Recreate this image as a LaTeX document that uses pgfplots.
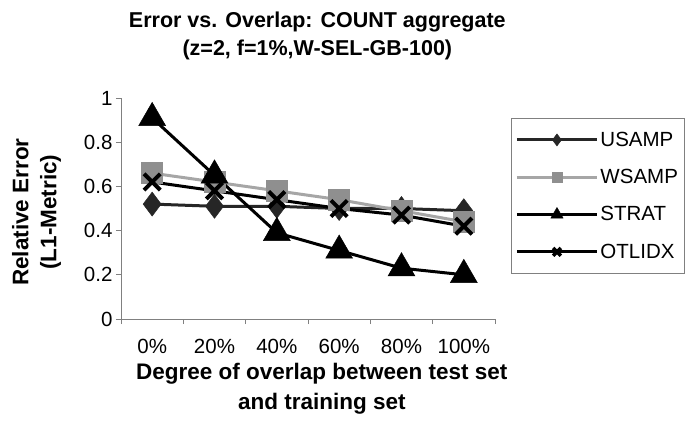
\documentclass[border=0pt]{standalone}
\usepackage{fontspec}
\setmainfont{Liberation Sans}
\usepackage{pgfplots}
\pgfplotsset{compat=1.18}
\definecolor{usamp}{HTML}{262626}
\definecolor{wline}{HTML}{A6A6A6}
\definecolor{wmark}{HTML}{8F8F8F}
\definecolor{axgray}{HTML}{808080}
\begin{document}
\begin{tikzpicture}
\path[use as bounding box] (0pt,0pt) rectangle (685pt,439pt);
\begin{axis}[
  at={(121pt,120pt)}, anchor=south west,
  scale only axis, width=374pt, height=221pt,
  xmin=-0.5, xmax=5.5, ymin=0, ymax=1,
  axis x line=bottom, axis y line=left,
  axis line style={-, draw=axgray, line width=0.8pt},
  tick align=outside,
  major tick length=5pt,
  xtick={0,1,2,3,4,5},
  xticklabels={0\%,20\%,40\%,60\%,80\%,100\%},
  major x tick style={draw=none},
  extra x ticks={-0.5,0.5,1.5,2.5,3.5,4.5,5.5},
  extra x tick labels={},
  extra x tick style={major x tick style={draw=axgray, line width=0.8pt}},
  ytick={0,0.2,0.4,0.6,0.8,1},
  yticklabels={0,0.2,0.4,0.6,0.8,1},
  major y tick style={draw=axgray, line width=0.8pt},
  tick label style={font=\fontsize{20.5}{24}\selectfont},
  xticklabel style={yshift=-12pt},
  /pgf/number format/assume math mode=true,
  title={Error vs. Overlap: COUNT aggregate\\(z=2, f=1\%,W-SEL-GB-100)},
  title style={font=\fontsize{21.5}{28}\selectfont\bfseries, align=center,
    at={(axis description cs:0.525,1.255)}, anchor=center},
  xlabel={Degree of overlap between test set\\and training set},
  xlabel style={font=\fontsize{22.5}{30}\selectfont\bfseries, align=center,
    at={(axis description cs:0.537,-0.315)}, anchor=center},
  ylabel={Relative Error\\(L1-Metric)},
  ylabel style={font=\fontsize{22.5}{28}\selectfont\bfseries, align=center,
    at={(axis description cs:-0.226,0.484)}, anchor=center},
  legend style={at={(axis description cs:1.043,0.909)}, anchor=north west,
    draw=axgray, line width=0.8pt, font=\fontsize{20.5}{22}\selectfont,
    row sep=17.5pt, inner ysep=11.5pt, inner xsep=4pt,
    /tikz/every even column/.append style={column sep=1pt}},
  legend cell align=left,
  legend image code/.code={\draw[mark repeat=2,mark phase=2,#1] plot coordinates {(0pt,0pt) (40pt,0pt) (80pt,0pt)};},
]
\addlegendimage{usamp, line width=3pt, mark=diamond*, mark size=6pt, mark options={solid, fill=usamp, line width=0.5pt}}
\addlegendentry{USAMP}
\addlegendimage{wline, line width=3pt, mark=square*, mark size=5pt, mark options={solid, draw=wmark, fill=wmark, line width=0.5pt}}
\addlegendentry{WSAMP}
\addlegendimage{black, line width=3pt, mark=triangle*, mark size=7pt, mark options={solid, fill=black, line width=0.5pt}}
\addlegendentry{STRAT}
\addlegendimage{black, line width=3pt, mark=x, mark size=5.5pt, mark options={solid, line width=3.5pt}}
\addlegendentry{OTLIDX}

\addplot[forget plot, usamp, line width=3pt, mark=diamond*, mark size=12pt, mark options={fill=usamp, draw=usamp, line width=0.5pt}]
  coordinates {(0,0.52) (1,0.51) (2,0.51) (3,0.50) (4,0.50) (5,0.49)};
\addplot[forget plot, wline, line width=3pt, mark=square*, mark size=10.5pt, mark options={fill=wmark, draw=wmark, line width=0.5pt}]
  coordinates {(0,0.66) (1,0.62) (2,0.58) (3,0.54) (4,0.49) (5,0.44)};
\addplot[forget plot, black, line width=3pt, mark=triangle*, mark size=15.5pt, mark options={fill=black, line width=0.5pt}]
  coordinates {(0,0.91) (1,0.65) (2,0.39) (3,0.31) (4,0.23) (5,0.20)};
\addplot[forget plot, black, line width=3pt, mark=x, mark size=11.5pt, mark options={line width=4pt}]
  coordinates {(0,0.62) (1,0.58) (2,0.54) (3,0.50) (4,0.47) (5,0.42)};
\end{axis}
\end{tikzpicture}
\end{document}
